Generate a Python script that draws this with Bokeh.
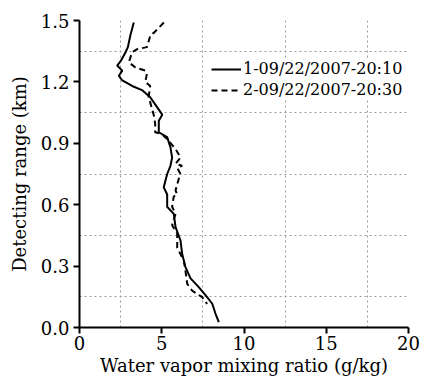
from bokeh.plotting import figure
from bokeh.models import FixedTicker, Legend, LegendItem, CustomJSTickFormatter
from bokeh.embed import file_html
from bokeh.resources import INLINE

# Series 1: 09/22/2007 20:10 (solid)
x1 = [3.3, 3.2, 3.1, 2.94, 2.8, 2.49, 2.29, 2.6, 2.39, 2.6, 3.2, 3.8, 4.3, 4.6, 5.03, 4.82, 4.82,
      5.33, 5.53, 5.63, 5.53, 5.33, 5.12, 5.33, 5.33, 5.73, 5.84, 6.14, 6.24, 6.44, 6.75, 7.25,
      7.76, 8.07, 8.27, 8.47]
y1 = [1.49, 1.46, 1.43, 1.37, 1.345, 1.30, 1.28, 1.255, 1.23, 1.207, 1.18, 1.16, 1.125, 1.09, 1.04,
      1.01, 0.954, 0.93, 0.88, 0.83, 0.79, 0.75, 0.685, 0.65, 0.59, 0.555, 0.49, 0.425, 0.36, 0.295,
      0.24, 0.197, 0.148, 0.116, 0.067, 0.026]

# Series 2: 09/22/2007 20:30 (dashed)
x2 = [5.13, 4.52, 4.32, 4.1, 3.5, 3.2, 3.0, 3.4, 4.0, 4.1, 4.0, 4.3, 4.2, 4.3, 4.52, 4.6, 4.6, 5.0,
      5.33, 5.84, 6.14, 5.84, 6.24, 5.94, 6.14, 6.03, 5.84, 5.94, 5.73, 5.63, 5.84, 5.63, 5.94, 5.94,
      6.34, 6.44, 6.55, 6.85, 7.46, 7.76]
y2 = [1.49, 1.44, 1.43, 1.37, 1.36, 1.345, 1.296, 1.27, 1.255, 1.24, 1.2, 1.18, 1.125, 1.1, 1.036,
      0.995, 0.954, 0.946, 0.92, 0.872, 0.83, 0.8, 0.79, 0.78, 0.75, 0.726, 0.67, 0.65, 0.64, 0.59,
      0.555, 0.5, 0.46, 0.39, 0.327, 0.278, 0.213, 0.18, 0.148, 0.115]

label1 = "1-09/22/2007-20:10"
label2 = "2-09/22/2007-20:30"
x_ticks = [0, 5, 10, 15, 20]
y_ticks = [0.0, 0.3, 0.6, 0.9, 1.2, 1.5]
x_grid = [2.5, 7.5, 12.5, 17.5]
y_grid = [0.15, 0.45, 0.75, 1.05, 1.35]

FONT = "DejaVu Serif"

p = figure(width=420, height=378, x_range=(0, 20), y_range=(0, 1.5),
           output_backend="svg", toolbar_location=None,
           min_border_left=79, min_border_right=12, min_border_top=20, min_border_bottom=51)
p.outline_line_color = None

l1 = p.line(x1, y1, line_color="black", line_width=2)
l2 = p.line(x2, y2, line_color="black", line_width=2, line_dash="6 4")

p.xaxis.ticker = FixedTicker(ticks=x_ticks)
p.yaxis.ticker = FixedTicker(ticks=y_ticks)
p.yaxis.formatter = CustomJSTickFormatter(code="return tick.toFixed(1);")

p.xgrid.ticker = FixedTicker(ticks=x_grid)
p.ygrid.ticker = FixedTicker(ticks=y_grid)
for g in (p.xgrid, p.ygrid):
    g.grid_line_color = "#999999"
    g.grid_line_dash = "2 3"
    g.grid_line_width = 1

for ax in (p.xaxis, p.yaxis):
    ax.axis_line_width = 2
    ax.axis_line_color = "black"
    ax.major_tick_line_width = 2
    ax.major_tick_line_color = "black"
    ax.major_tick_in = 0
    ax.major_tick_out = 6
    ax.minor_tick_line_color = None
    ax.major_label_text_font = FONT
    ax.major_label_text_font_size = "18px"
    ax.major_label_text_color = "black"
    ax.axis_label_text_font = FONT
    ax.axis_label_text_font_size = "18px"
    ax.axis_label_text_font_style = "normal"
    ax.axis_label_text_color = "black"

p.xaxis.axis_label = "Water vapor mixing ratio (g/kg)"
p.yaxis.axis_label = "Detecting range (km)"
p.xaxis.major_label_standoff = 2
p.yaxis.major_label_standoff = 4
p.xaxis.axis_label_standoff = 2
p.yaxis.axis_label_standoff = 8

legend = Legend(items=[LegendItem(label=label1, renderers=[l1]),
                       LegendItem(label=label2, renderers=[l2])],
                location=(132, 228))
legend.label_text_font = FONT
legend.label_text_font_size = "16px"
legend.label_text_color = "black"
legend.border_line_color = None
legend.background_fill_color = "white"
legend.background_fill_alpha = 1.0
legend.glyph_width = 30
legend.glyph_height = 18
legend.label_height = 18
legend.spacing = 2
legend.padding = 4
legend.margin = 0
legend.label_standoff = 2
p.add_layout(legend)

open("out.html", "w").write(file_html(p, INLINE))
